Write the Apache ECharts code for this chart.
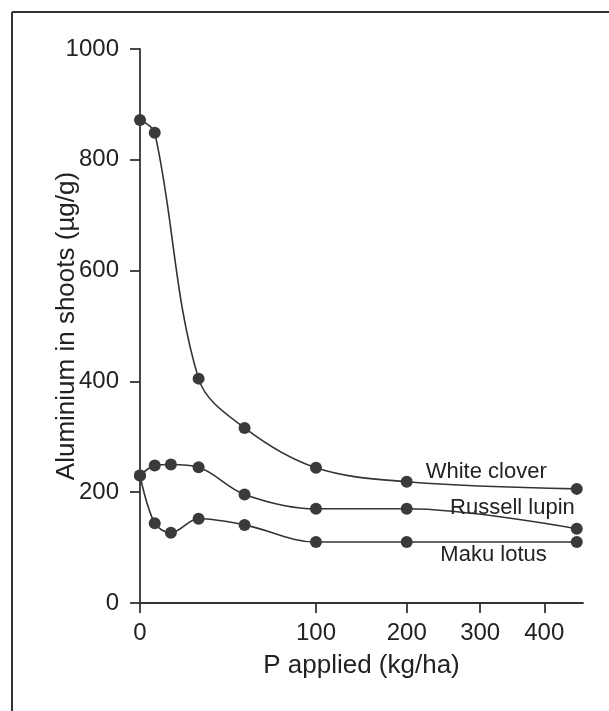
<!DOCTYPE html>
<html>
<head>
<meta charset="utf-8">
<title>Aluminium in shoots</title>
<script src="https://cdn.jsdelivr.net/npm/echarts@6/dist/echarts.min.js"></script>
<style>
  html, body { margin: 0; padding: 0; background: #fff; }
  #main { width: 609px; height: 711px; }
</style>
</head>
<body>
<div id="main"></div>
<script>
// P applied (kg/ha) at each sampling point
var pWhiteClover = [0, 1.6, 16, 42, 100, 200, 455];
var pLupinLotus  = [0, 1.6, 5.5, 16, 42, 100, 200, 455];

// Aluminium in shoots (ug/g)
var whiteClover  = [872, 849, 405, 316, 244, 219, 206];
var russellLupin = [230, 248, 250, 245, 196, 170, 170, 134];
var makuLotus    = [230, 144, 127, 152, 141, 110, 110, 110];

var xTicks = [0, 100, 200, 300, 400];
var yTicks = [0, 200, 400, 600, 800, 1000];

// the x axis is compressed, drawn as P^0.6
var POW = 0.6;
function tx(p) { return Math.pow(p, POW); }

var ink = '#333';
var font = 'Liberation Sans, Arial, sans-serif';

function pairs(xs, ys, labelOpt) {
  return xs.map(function (x, i) {
    var item = { value: [tx(x), ys[i]] };
    if (i === xs.length - 1) item.label = labelOpt;
    return item;
  });
}

function endLabel(dx, dy) {
  return {
    show: true,
    position: 'inside',
    align: 'right',
    verticalAlign: 'middle',
    offset: [dx, dy],
    formatter: '{a}',
    color: '#222',
    fontSize: 22,
    fontFamily: font
  };
}

function lineSeries(name, xs, ys, lab) {
  return {
    name: name,
    type: 'line',
    smooth: 0.35,
    symbol: 'circle',
    symbolSize: 12,
    itemStyle: { color: '#3a3a3a' },
    lineStyle: { color: ink, width: 1.6 },
    data: pairs(xs, ys, lab),
    z: 3
  };
}

var myChart = echarts.init(document.getElementById('main'));

var option = {
  backgroundColor: '#fff',
  animation: false,
  grid: { left: 140, right: 26, top: 49, bottom: 108 },
  xAxis: {
    type: 'value',
    min: 0,
    max: 39.9,
    name: 'P applied (kg/ha)',
    nameLocation: 'middle',
    nameGap: 50,
    nameMoveOverlap: false,
    nameTextStyle: { color: '#222', fontSize: 26, fontFamily: font },
    splitLine: { show: false },
    axisLine: { lineStyle: { color: ink, width: 1.8 } },
    axisTick: {
      length: 10,
      lineStyle: { color: ink, width: 1.8 },
      customValues: xTicks.map(tx)
    },
    axisLabel: {
      margin: 18,
      color: '#222',
      fontSize: 24,
      fontFamily: font,
      customValues: xTicks.map(tx),
      formatter: function (v) { return Math.round(Math.pow(v, 1 / POW)); }
    }
  },
  yAxis: {
    type: 'value',
    min: 0,
    max: 1000,
    interval: 200,
    name: 'Aluminium in shoots (µg/g)',
    nameLocation: 'middle',
    nameGap: 60,
    nameMoveOverlap: false,
    nameTextStyle: { color: '#222', fontSize: 26, fontFamily: font },
    splitLine: { show: false },
    axisLine: { show: true, lineStyle: { color: ink, width: 1.8 } },
    axisTick: { show: true, length: 10, lineStyle: { color: ink, width: 1.8 } },
    axisLabel: {
      margin: 21,
      color: '#222',
      fontSize: 24,
      fontFamily: font,
      customValues: yTicks,
      formatter: function (v) { return String(v); }
    }
  },
  graphic: [
    { type: 'line', shape: { x1: 12, y1: 12, x2: 12, y2: 711 }, style: { stroke: ink, lineWidth: 2 } },
    { type: 'line', shape: { x1: 12, y1: 12, x2: 609, y2: 12 }, style: { stroke: ink, lineWidth: 2 } }
  ],
  series: [
    lineSeries('White clover', pWhiteClover, whiteClover, endLabel(-30, -17)),
    lineSeries('Russell lupin', pLupinLotus, russellLupin, endLabel(-2, -21)),
    lineSeries('Maku lotus', pLupinLotus, makuLotus, endLabel(-30, 13))
  ]
};

myChart.setOption(option);
</script>
</body>
</html>
